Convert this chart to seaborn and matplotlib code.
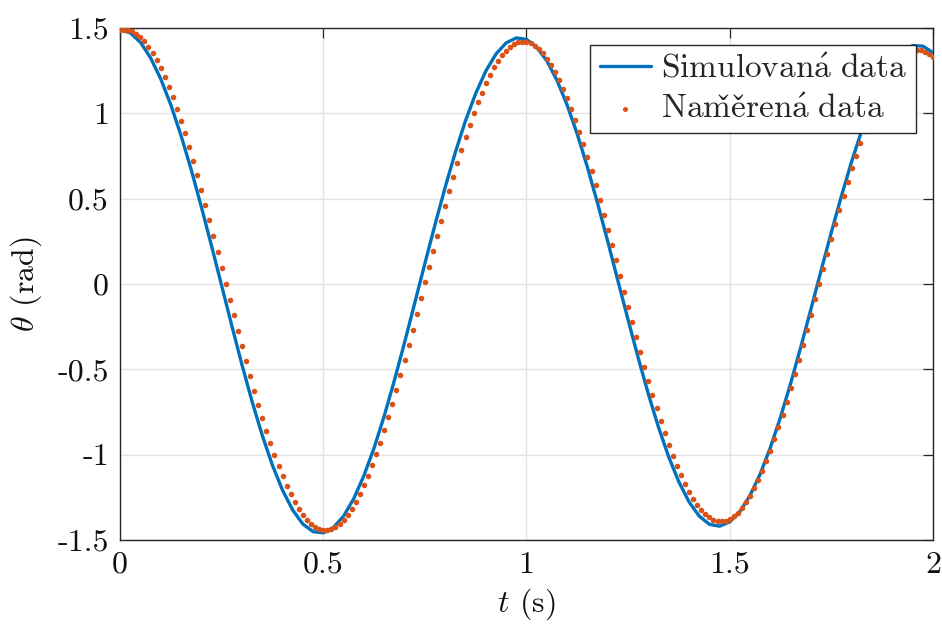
import numpy as np
import pandas as pd
import matplotlib
matplotlib.use("Agg")
import matplotlib.pyplot as plt
import seaborn as sns

# Measured pendulum angle, sampled every 0.01 s from 0 to 2 s
t_meas = np.linspace(0.0, 2.0, 201)
theta_meas = [
    1.490, 1.489, 1.488, 1.480, 1.467, 1.447, 1.422, 1.391, 1.354, 1.312,
    1.264, 1.212, 1.155, 1.093, 1.027, 0.956, 0.882, 0.804, 0.723, 0.639,
    0.553, 0.464, 0.374, 0.281, 0.188, 0.094, 0.000, -0.092, -0.184, -0.275,
    -0.365, -0.454, -0.540, -0.625, -0.706, -0.786, -0.861, -0.933, -1.002, -1.066,
    -1.126, -1.181, -1.231, -1.277, -1.317, -1.351, -1.380, -1.404, -1.422, -1.433,
    -1.439, -1.439, -1.433, -1.421, -1.404, -1.380, -1.351, -1.316, -1.275, -1.230,
    -1.179, -1.123, -1.063, -0.998, -0.930, -0.857, -0.780, -0.701, -0.619, -0.534,
    -0.447, -0.358, -0.267, -0.176, -0.083, 0.009,
    0.101, 0.192, 0.283, 0.372, 0.460, 0.545, 0.629, 0.710, 0.788, 0.863,
    0.934, 1.001, 1.064, 1.122, 1.176, 1.225, 1.269, 1.308, 1.341, 1.368,
    1.390, 1.406, 1.416, 1.420,
    1.418, 1.410, 1.397, 1.377, 1.352, 1.321, 1.285, 1.243, 1.196, 1.144,
    1.088, 1.027, 0.961, 0.891, 0.818, 0.742, 0.662, 0.579, 0.494, 0.407,
    0.318, 0.228, 0.138, 0.046,
    -0.045, -0.135, -0.224, -0.312, -0.399, -0.484, -0.567, -0.648, -0.726, -0.801,
    -0.873, -0.941, -1.005, -1.065, -1.120, -1.171, -1.217, -1.258, -1.293, -1.324,
    -1.348, -1.367, -1.381, -1.388,
    -1.390, -1.386, -1.376, -1.360, -1.339, -1.312, -1.279, -1.241, -1.198, -1.150,
    -1.096, -1.039, -0.977, -0.910, -0.840, -0.767, -0.690, -0.610, -0.528, -0.443,
    -0.357, -0.269, -0.180, -0.090,
    0.000, 0.089, 0.177, 0.264, 0.350, 0.435, 0.518, 0.599, 0.677, 0.753,
    0.825, 0.894, 0.959, 1.021, 1.078, 1.130, 1.178, 1.220, 1.258, 1.290,
    1.317, 1.339, 1.355, 1.365, 1.370,
    1.369, 1.362, 1.349, 1.331,
]

# Simulated angle, solver output every 0.025 s
t_sim = np.linspace(0.0, 2.0, 81)
theta_sim = [
    1.490, 1.472, 1.417, 1.326, 1.203, 1.050, 0.871, 0.671, 0.453, 0.225,
    -0.009, -0.244, -0.473, -0.689, -0.887, -1.062, -1.209, -1.325, -1.407, -1.451,
    -1.458, -1.427, -1.360, -1.258, -1.123, -0.961, -0.773, -0.565, -0.343, -0.112,
    0.120, 0.348, 0.567, 0.772, 0.957, 1.116, 1.248, 1.348, 1.413, 1.442,
    1.433, 1.388, 1.308, 1.194, 1.049, 0.878, 0.684, 0.472, 0.249, 0.018,
    -0.210, -0.434, -0.646, -0.841, -1.014, -1.160, -1.277, -1.360, -1.408, -1.419,
    -1.394, -1.333, -1.239, -1.113, -0.958, -0.780, -0.581, -0.368, -0.145, 0.081,
    0.303, 0.517, 0.718, 0.901, 1.060, 1.193, 1.294, 1.363, 1.397, 1.394,
    1.356,
]

x_ticks = [0, 0.5, 1, 1.5, 2]
x_tick_labels = ["0", "0.5", "1", "1.5", "2"]
y_ticks = [-1.5, -1, -0.5, 0, 0.5, 1, 1.5]
y_tick_labels = ["-1.5", "-1", "-0.5", "0", "0.5", "1", "1.5"]

label_sim = r"$\mathrm{Simulovan\acute{a}\ data}$"
label_meas = r"$\mathrm{Nam\check{e}\check{r}en\acute{a}\ data}$"

sim_df = pd.DataFrame({"t": t_sim, "theta": theta_sim})
meas_df = pd.DataFrame({"t": t_meas, "theta": theta_meas})

sns.set_theme(style="white")
plt.rcParams.update({
    "font.family": "serif",
    "font.serif": ["cmr10"],
    "mathtext.fontset": "cm",
    "axes.unicode_minus": False,
    "axes.formatter.use_mathtext": True,
})

FS = 23
AX_COLOR = "#262626"
BLUE = "#0072BD"
ORANGE = "#D95319"

fig = plt.figure(figsize=(9.42, 6.31), dpi=100)
ax = fig.add_axes([0.1274, 0.1442, 0.9904 - 0.1274, 0.9556 - 0.1442])

sns.lineplot(data=sim_df, x="t", y="theta", ax=ax, color=BLUE,
             linewidth=2.4, label=label_sim, zorder=3)
sns.scatterplot(data=meas_df, x="t", y="theta", ax=ax, color=ORANGE,
                s=16, linewidth=0, label=label_meas, zorder=4)

ax.set_xlim(0, 2)
ax.set_ylim(-1.5, 1.5)
ax.set_xticks(x_ticks)
ax.set_xticklabels(x_tick_labels)
ax.set_yticks(y_ticks)
ax.set_yticklabels(y_tick_labels)

ax.grid(True, color="#e3e3e3", linewidth=1.0)
ax.set_axisbelow(True)
for side in ["left", "right", "top", "bottom"]:
    ax.spines[side].set_visible(True)
    ax.spines[side].set_color(AX_COLOR)
    ax.spines[side].set_linewidth(1.0)

ax.tick_params(axis="both", which="major", direction="in", length=7,
               width=0.9, color=AX_COLOR, labelsize=FS, labelcolor="#111111",
               top=True, right=True, pad=8)

ax.set_xlabel(r"$t$ (s)", fontsize=FS, color="#111111", labelpad=6)
ax.set_ylabel(r"$\theta$ (rad)", fontsize=FS, color="#111111", labelpad=10)

leg = ax.legend(loc="upper right", fontsize=24, frameon=True, fancybox=False,
                edgecolor=AX_COLOR, framealpha=1.0, borderpad=0.28,
                handlelength=1.55, handletextpad=0.3, labelspacing=0.33,
                borderaxespad=0.5, markerscale=0.9)
leg.get_frame().set_linewidth(1.0)

fig.savefig("out.png", dpi=100)
